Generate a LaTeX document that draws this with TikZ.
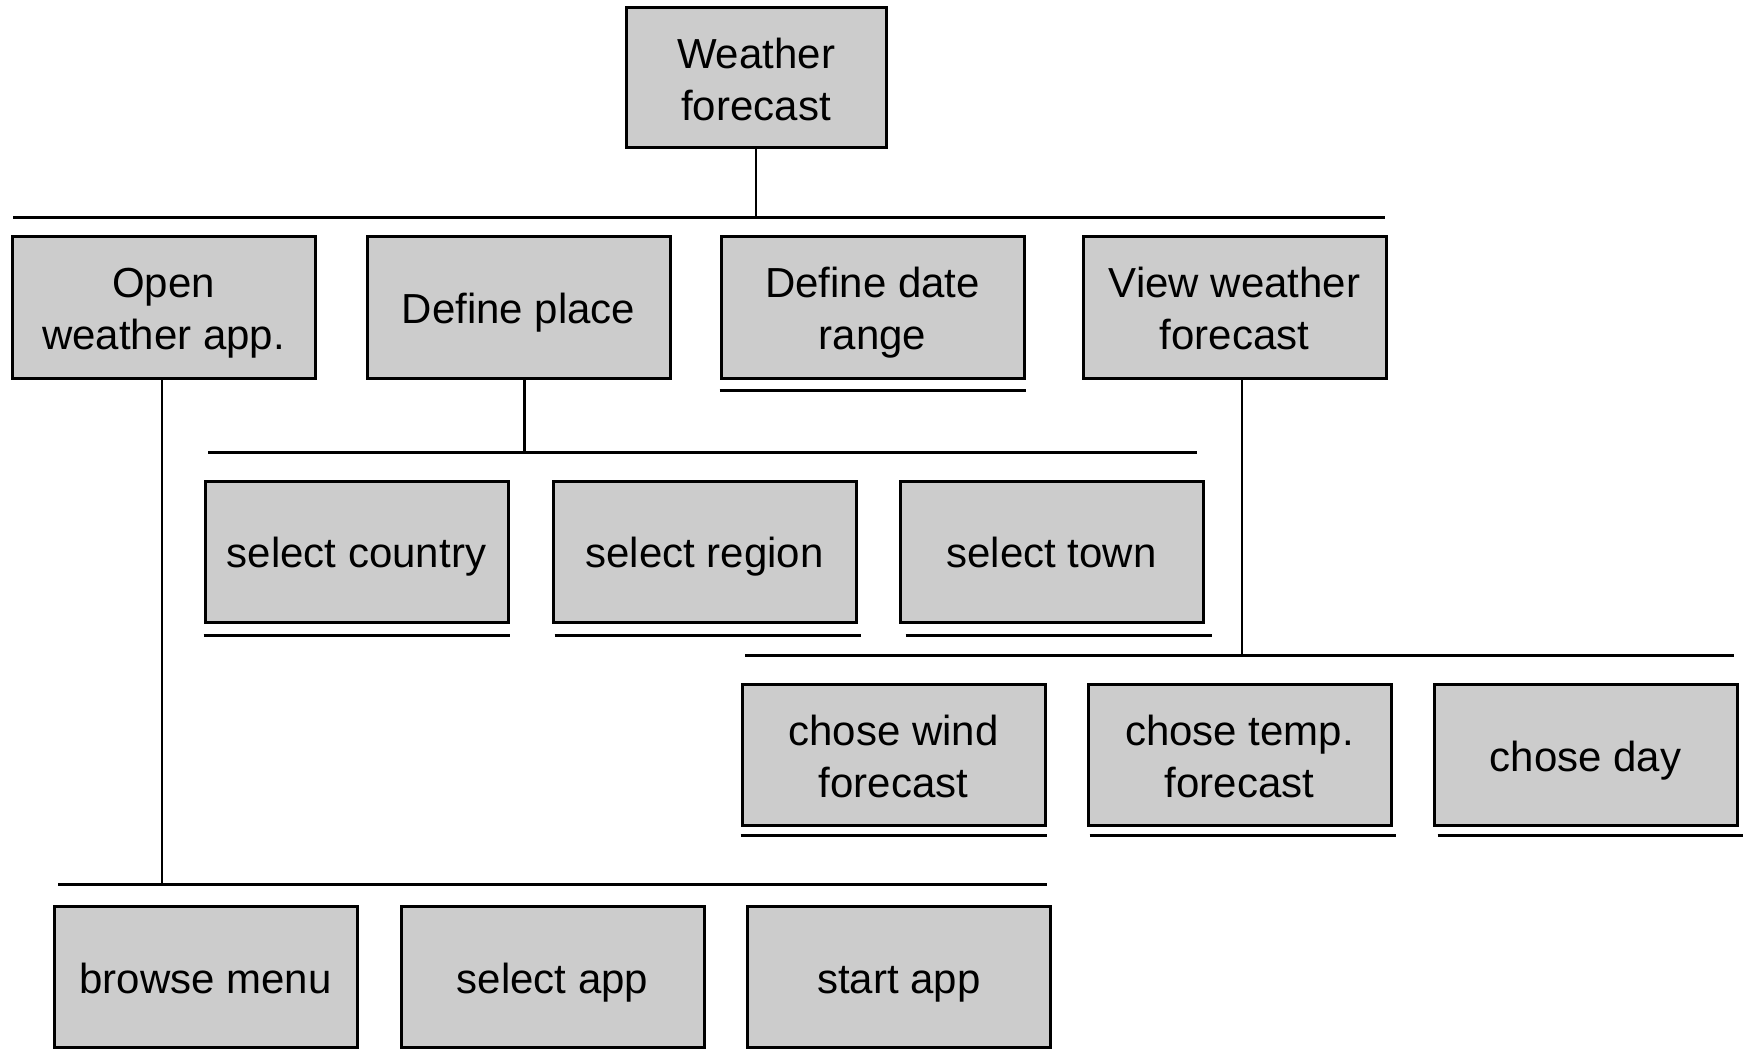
\documentclass[tikz,border=0pt]{standalone}
\usepackage{fontspec}
\setmainfont{Liberation Sans}
% uniform line strut so every label sits at the same height in its box
\newcommand\lnstrut{\rule[-4.3pt]{0pt}{25pt}}
\newcommand\tasksize{\fontsize{21}{26}\selectfont\lineskiplimit=-100pt\relax}
\begin{document}
\begin{tikzpicture}[x=0.5pt,y=-0.5pt,
  task/.style={draw=black,line width=1.5pt,fill=boxgray,minimum width=151.5pt,
    minimum height=70.5pt,align=center,inner sep=0pt,font=\tasksize},
  bar/.style={draw=black,line width=1.5pt},
  link/.style={draw=black,line width=1.2pt},
  uline/.style={draw=black,line width=1.5pt}]
\definecolor{boxgray}{HTML}{CCCCCC}
\useasboundingbox (0,0) rectangle (1743,1053);

% root
\node[task,minimum width=130pt,minimum height=70pt] (wf) at (756,78) {\lnstrut Weather\\\lnstrut forecast};

% first level
\node[task] (open) at (163.5,307.5) {\lnstrut Open\\\lnstrut weather app.};
\node[task] (place) at (518.5,307.5) {\lnstrut Define place};
\node[task] (date) at (872.5,307.5) {\lnstrut Define date\\\lnstrut range};
\node[task] (view) at (1234.5,307.5) {\lnstrut View weather\\\lnstrut forecast};

% place sub-tasks
\node[task] (country) at (356.5,551.5) {\lnstrut select country};
\node[task] (region) at (704.5,551.5) {\lnstrut select region};
\node[task] (town) at (1051.5,551.5) {\lnstrut select town};

% view sub-tasks
\node[task] (wind) at (893.5,755) {\lnstrut chose wind\\\lnstrut forecast};
\node[task] (temp) at (1239.5,755) {\lnstrut chose temp.\\\lnstrut forecast};
\node[task] (day) at (1585.5,755) {\lnstrut chose day};

% open sub-tasks
\node[task] (browse) at (205.5,977) {\lnstrut browse menu};
\node[task] (selapp) at (552.5,977) {\lnstrut select app};
\node[task] (start) at (899,977) {\lnstrut start app};

% horizontal bars
\coordinate (b0l) at (13,218);   \coordinate (b0r) at (1385,218);
\coordinate (b1l) at (208,452);  \coordinate (b1r) at (1197,452);
\coordinate (b2l) at (745,655);  \coordinate (b2r) at (1734,655);
\coordinate (b3l) at (58,884);   \coordinate (b3r) at (1047,884);
\draw[bar] (b0l) -- (b0r);
\draw[bar] (b1l) -- (b1r);
\draw[bar] (b2l) -- (b2r);
\draw[bar] (b3l) -- (b3r);

% vertical links from parents to their bars
\draw[link] (wf.south) -- (wf.south |- b0l);
\draw[link] ([xshift=3pt]place.south) -- ([xshift=3pt]place.south |- b1l);
\draw[link] ([xshift=3.75pt]view.south) -- ([xshift=3.75pt]view.south |- b2l);
\draw[link] ([xshift=-0.75pt]open.south) -- ([xshift=-0.75pt]open.south |- b3l);

% underlines below leaf tasks
\draw[uline] ([yshift=-5.5pt]date.south west) -- ([yshift=-5.5pt]date.south east);
\draw[uline] ([yshift=-6pt]country.south west) -- ([yshift=-6pt]country.south east);
\draw[uline] ([xshift=1.5pt,yshift=-6pt]region.south west) -- ([xshift=1.5pt,yshift=-6pt]region.south east);
\draw[uline] ([xshift=3.5pt,yshift=-6pt]town.south west) -- ([xshift=3.5pt,yshift=-6pt]town.south east);
\draw[uline] ([yshift=-4pt]wind.south west) -- ([yshift=-4pt]wind.south east);
\draw[uline] ([xshift=1.5pt,yshift=-4pt]temp.south west) -- ([xshift=1.5pt,yshift=-4pt]temp.south east);
\draw[uline] ([xshift=2.5pt,yshift=-4pt]day.south west) -- ([xshift=2pt,yshift=-4pt]day.south east);
\end{tikzpicture}
\end{document}
